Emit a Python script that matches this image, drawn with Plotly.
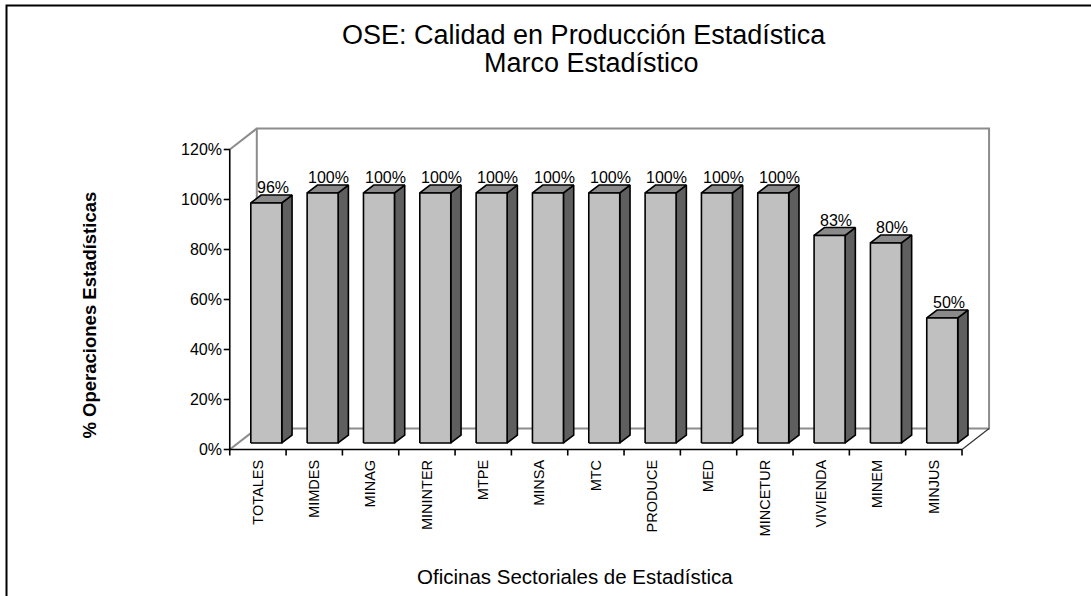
import plotly.graph_objects as go

categories = ["TOTALES", "MIMDES", "MINAG", "MININTER", "MTPE", "MINSA", "MTC",
              "PRODUCE", "MED", "MINCETUR", "VIVIENDA", "MINEM", "MINJUS"]
values = [96, 100, 100, 100, 100, 100, 100, 100, 100, 100, 83, 80, 50]
y_ticks = [0, 20, 40, 60, 80, 100, 120]
y_tick_text = [f"{t}%" for t in y_ticks]

title_line1 = "OSE: Calidad en Producción Estadística"
title_line2 = "Marco Estadístico"
y_title = "% Operaciones Estadísticas"
x_title = "Oficinas Sectoriales de Estadística"

FONT = "Liberation Sans, Arial, sans-serif"
W, H = 1091, 596
ML, MR, MT, MB = 223, 98, 126, 140
PW, PH = W - ML - MR, H - MT - MB

n = len(categories)
ymax = y_ticks[-1]
DX, DY = 0.48, 8.4          # depth offset of the 3-D box (data units)
F0, F1 = 0.31, 0.69         # bar front / back depth fractions
HW = 0.275                  # half width of bar front face

def px(xp):
    return (xp - ML) / PW

def py(yp):
    return (H - MB - yp) / PH

fig = go.Figure()

# bar faces
sx, sy = F0 * DX, F0 * DY
bx, by = F1 * DX, F1 * DY
front_x, front_y, top_x, top_y, side_x, side_y = [], [], [], [], [], []
for i, v in enumerate(values):
    c = i + 0.5
    xl, xr = c - HW, c + HW
    front_x += [xl + sx, xr + sx, xr + sx, xl + sx, xl + sx, None]
    front_y += [sy, sy, v + sy, v + sy, sy, None]
    top_x += [xl + sx, xr + sx, xr + bx, xl + bx, xl + sx, None]
    top_y += [v + sy, v + sy, v + by, v + by, v + sy, None]
    side_x += [xr + sx, xr + bx, xr + bx, xr + sx, xr + sx, None]
    side_y += [sy, by, v + by, v + sy, sy, None]

for xs, ys, col in [(side_x, side_y, "#5f5f5f"), (top_x, top_y, "#8a8a8a"),
                    (front_x, front_y, "#c0c0c0")]:
    fig.add_trace(go.Scatter(x=xs, y=ys, mode="lines", fill="toself",
                             fillcolor=col, line=dict(color="black", width=1.6),
                             hoverinfo="skip", showlegend=False))

shapes = []
gray = dict(color="#8c8c8c", width=2)
blk = dict(color="black", width=1.6)
# back wall
shapes.append(dict(type="rect", xref="x", yref="y", x0=DX, x1=n + DX, y0=DY, y1=ymax + DY,
                   line=gray, layer="below"))
# left wall top, floor left edge
shapes.append(dict(type="line", xref="x", yref="y", x0=0, y0=ymax, x1=DX, y1=ymax + DY,
                   line=gray, layer="below"))
shapes.append(dict(type="line", xref="x", yref="y", x0=0, y0=0, x1=DX, y1=DY,
                   line=gray, layer="below"))
# floor right edge
shapes.append(dict(type="line", xref="x", yref="y", x0=n, y0=0, x1=n + DX, y1=DY,
                   line=dict(color="#333333", width=1.2), layer="below"))
# axes
shapes.append(dict(type="line", xref="x", yref="y", x0=0, y0=0, x1=0, y1=ymax, line=blk))
shapes.append(dict(type="line", xref="x", yref="y", x0=0, y0=0, x1=n, y1=0, line=blk))
# ticks
for t in y_ticks:
    shapes.append(dict(type="line", xref="x", yref="y", x0=-0.107, x1=0, y0=t, y1=t, line=blk))
for i in range(n + 1):
    shapes.append(dict(type="line", xref="x", yref="y", x0=i, x1=i, y0=0, y1=-2.4, line=blk))
# outer frame
shapes.append(dict(type="rect", xref="paper", yref="paper", x0=px(6.5), x1=px(1110),
                   y0=py(620), y1=py(5.5), line=dict(color="black", width=2)))

annotations = []
for i, v in enumerate(values):
    annotations.append(dict(x=i + 0.5 + 0.26, y=v + by, xref="x", yref="y",
                            text=f"{v}%", showarrow=False, yanchor="bottom", yshift=-3,
                            font=dict(family=FONT, size=16, color="black")))
annotations.append(dict(x=px(584), y=py(35), xref="paper", yref="paper", text=title_line1,
                        showarrow=False, xanchor="center", yanchor="middle",
                        font=dict(family=FONT, size=27, color="black")))
annotations.append(dict(x=px(591), y=py(63), xref="paper", yref="paper", text=title_line2,
                        showarrow=False, xanchor="center", yanchor="middle",
                        font=dict(family=FONT, size=27, color="black")))
annotations.append(dict(x=px(88.5), y=py(315), xref="paper", yref="paper", text=f"<b>{y_title}</b>",
                        showarrow=False, xanchor="center", yanchor="middle", textangle=-90,
                        font=dict(family=FONT, size=18.5, color="black")))
annotations.append(dict(x=px(575), y=py(576), xref="paper", yref="paper", text=x_title,
                        showarrow=False, xanchor="center", yanchor="middle",
                        font=dict(family=FONT, size=20.5, color="black")))

fig.update_layout(
    width=W, height=H, autosize=False,
    margin=dict(l=ML, r=MR, t=MT, b=MB, pad=0),
    paper_bgcolor="white", plot_bgcolor="white",
    showlegend=False,
    shapes=shapes, annotations=annotations,
    xaxis=dict(range=[-0.12, n + 0.55], tickvals=[i + 0.5 for i in range(n)],
               ticktext=categories, tickangle=-90, ticks="", showgrid=False,
               zeroline=False, showline=False, automargin=False, fixedrange=True,
               tickfont=dict(family=FONT, size=14.5, color="black")),
    yaxis=dict(range=[-2.6, ymax + 9.4], tickvals=y_ticks, ticktext=y_tick_text,
               ticks="", showgrid=False, zeroline=False, showline=False,
               automargin=False, fixedrange=True,
               tickfont=dict(family=FONT, size=16, color="black")),
)

fig.write_html("out.html", config={"displayModeBar": False},
               post_script="document.body.style.margin='0';document.body.style.overflow='hidden';")
